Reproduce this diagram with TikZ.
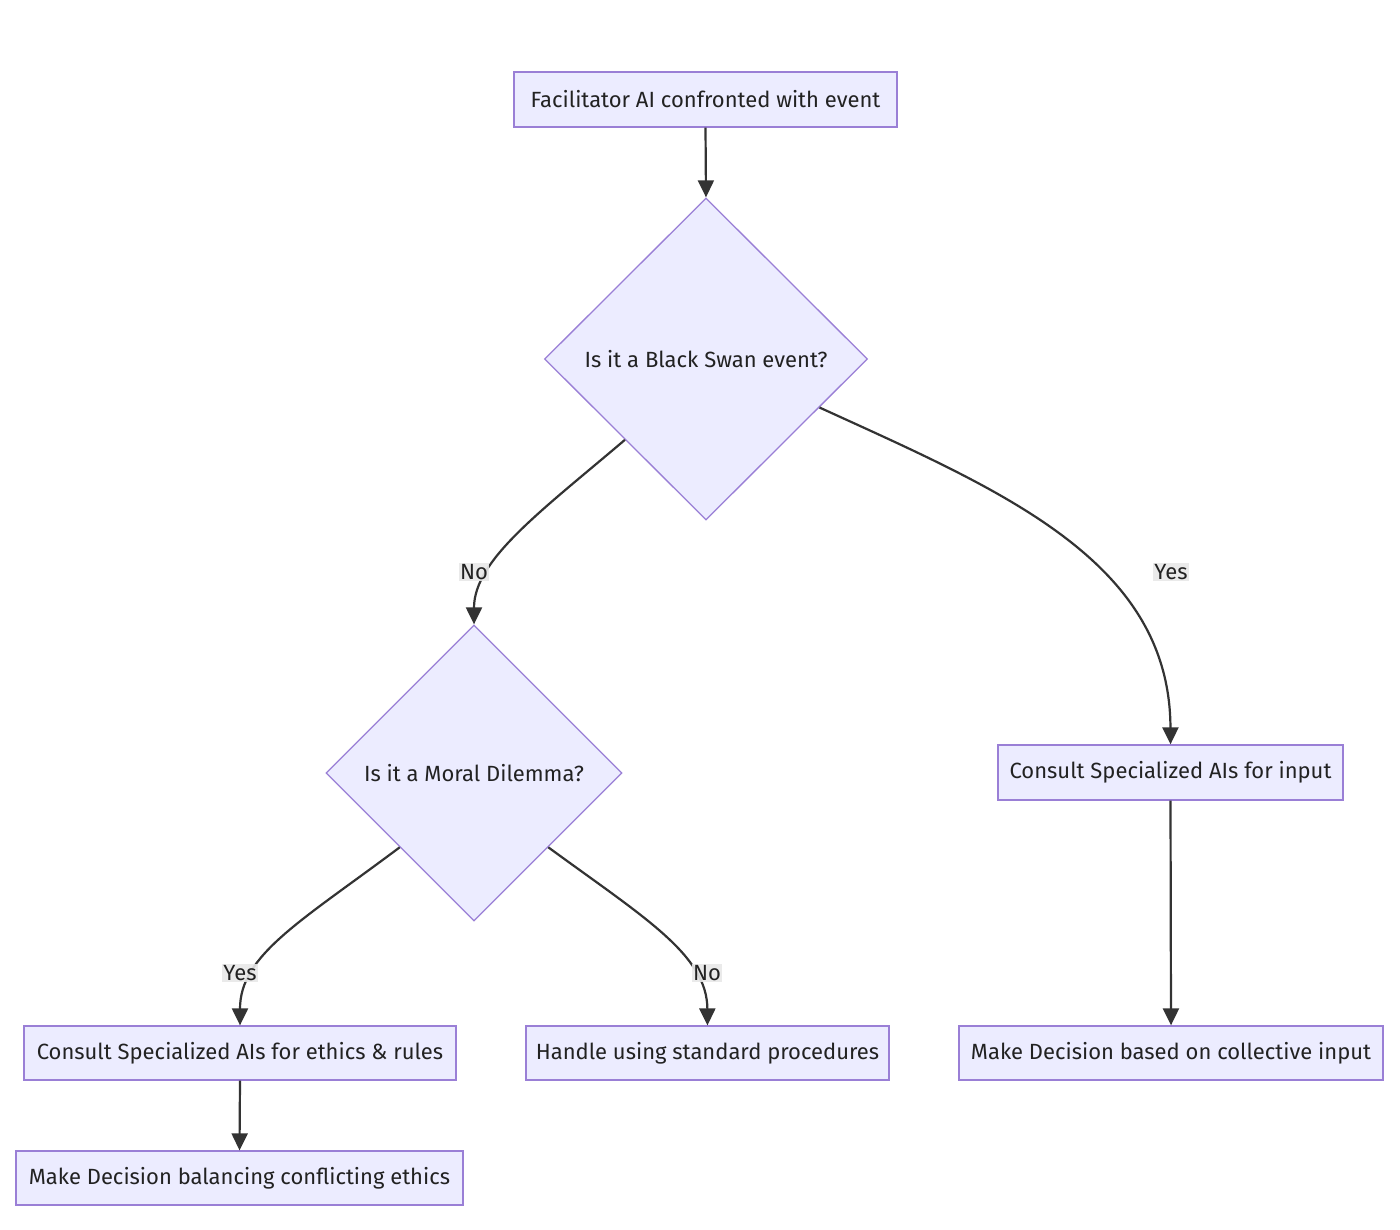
\documentclass[tikz,border=0pt]{standalone}
\usepackage{fontspec}
\setmainfont{Fira Sans}
\usetikzlibrary{shapes.geometric,arrows.meta,calc}
\definecolor{nodefill}{HTML}{ECECFF}
\definecolor{nodeline}{HTML}{9A7FD6}
\definecolor{edgecol}{HTML}{333333}
\definecolor{textcol}{HTML}{222222}
\definecolor{labelbg}{HTML}{E8E8E8}
\tikzset{
  box/.style={draw=nodeline, fill=nodefill, line width=1.3pt, rectangle, minimum height=55pt, inner sep=0pt, text=textcol, font=\fontsize{22}{26}\selectfont},
  dia/.style={draw=nodeline, fill=nodefill, line width=1.3pt, diamond, inner sep=0pt, text=textcol, font=\fontsize{22}{26}\selectfont},
  conn/.style={draw=edgecol, line width=2.2pt, -{Triangle[length=17pt,width=16pt]}},
  elabel/.style={fill=labelbg, fill opacity=0.9, text opacity=1, inner sep=1.5pt, text=textcol, font=\fontsize{22}{26}\selectfont}
}
\begin{document}
\begin{tikzpicture}[x=1pt,y=-1pt]
\useasboundingbox[fill=white] (0,0) rectangle (1400,1229);
\node[box, minimum width=383pt] (N1) at (705.5,99.5) {Facilitator AI confronted with event};
\node[dia, minimum width=323pt, minimum height=322pt] (D1) at (706,359) {Is it a Black Swan event?};
\node[dia, minimum width=296pt, minimum height=296pt] (D2) at (474,773) {Is it a Moral Dilemma?};
\node[box, minimum width=345pt] (N3) at (1170.5,772.5) {Consult Specialized AIs for input};
\node[box, minimum width=432pt, minimum height=54pt] (N4) at (240,1053) {Consult Specialized AIs for ethics \& rules};
\node[box, minimum width=363pt, minimum height=54pt] (N5) at (707.5,1053) {Handle using standard procedures};
\node[box, minimum width=424pt, minimum height=54pt] (N6) at (1171,1053) {Make Decision based on collective input};
\node[box, minimum width=447pt, minimum height=54pt] (N7) at (239.5,1178) {Make Decision balancing conflicting ethics};

\coordinate (D1y) at ($(D1.east)!0.3!(D1.south)$);

\draw[conn] (N1.south) -- (D1.north);
\draw[conn] (D1.south west) .. controls (540,512) and (474,560) .. (D2.north);
\draw[conn] (D1y) .. controls (1000,490) and (1170,560) .. (N3.north);
\draw[conn] (D2.south west) .. controls (300,922) and (240,955) .. (N4.north);
\draw[conn] (D2.south east) .. controls (645,918) and (707,955) .. (N5.north);
\draw[conn] (N3.south) -- (N6.north);
\draw[conn] (N4.south) -- (N7.north);

\node[elabel] (L1) at (474,572) {No};
\node[elabel] (L2) at (1171,572) {Yes};
\node[elabel] (L3) at (240,973) {Yes};
\node[elabel] (L4) at (707,973) {No};
\end{tikzpicture}
\end{document}
